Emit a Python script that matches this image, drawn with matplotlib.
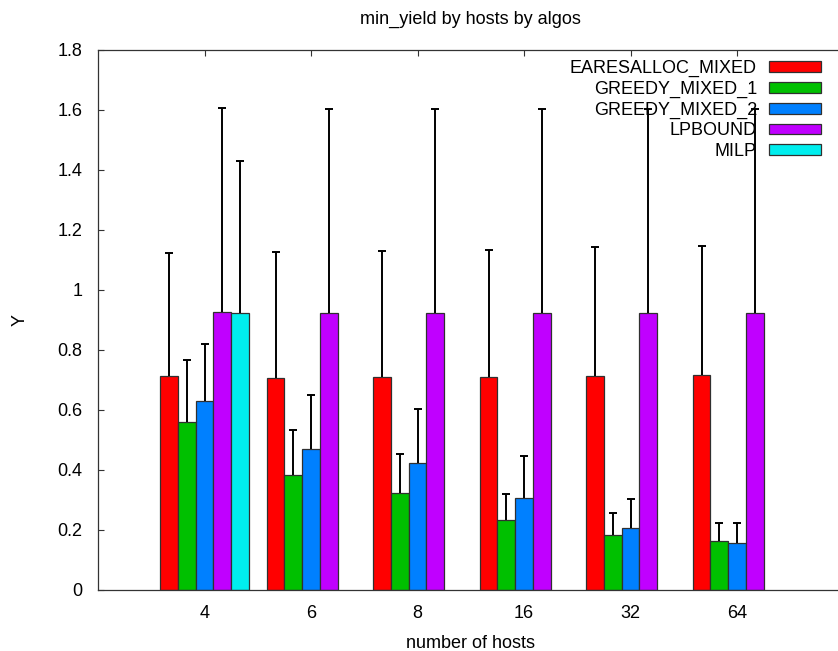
import matplotlib
matplotlib.use('Agg')
import matplotlib.pyplot as plt
import numpy as np

plt.rcParams['font.family'] = ['Liberation Sans', 'DejaVu Sans']
plt.rcParams['font.size'] = 13

# number of hosts on the x axis
hosts = ['4', '6', '8', '16', '32', '64']

algos = ['EARESALLOC_MIXED', 'GREEDY_MIXED_1', 'GREEDY_MIXED_2', 'LPBOUND', 'MILP']
colors = ['#ff0000', '#00c000', '#0080ff', '#c000ff', '#00eeee']

# mean min_yield per algo
eares = [0.713, 0.706, 0.709, 0.709, 0.715, 0.717]
greedy1 = [0.559, 0.384, 0.322, 0.234, 0.183, 0.163]
greedy2 = [0.631, 0.471, 0.424, 0.306, 0.208, 0.158]
lpbound = [0.926, 0.922, 0.922, 0.922, 0.922, 0.922]
milp = [0.922, np.nan, np.nan, np.nan, np.nan, np.nan]

# upper error (std dev)
eares_err = [0.409, 0.420, 0.420, 0.425, 0.427, 0.431]
greedy1_err = [0.208, 0.149, 0.131, 0.086, 0.073, 0.060]
greedy2_err = [0.188, 0.179, 0.179, 0.142, 0.094, 0.065]
lpbound_err = [0.680, 0.681, 0.681, 0.681, 0.681, 0.681]
milp_err = [0.508, np.nan, np.nan, np.nan, np.nan, np.nan]

values = [eares, greedy1, greedy2, lpbound, milp]
errors = [eares_err, greedy1_err, greedy2_err, lpbound_err, milp_err]

fig = plt.figure(figsize=(8.38, 6.51), dpi=100)
ax = fig.add_axes([98 / 838, 61 / 651, 745.6 / 838, 540 / 651])

x = np.arange(len(hosts))
width = 1.0 / 6
for i, (vals, errs) in enumerate(zip(values, errors)):
    pos = x + (i - 2) * width
    vals = np.array(vals, dtype=float)
    errs = np.array(errs, dtype=float)
    ok = ~np.isnan(vals)
    ax.bar(pos[ok], vals[ok], width, color=colors[i], edgecolor='#303030',
           linewidth=0.9, label=algos[i], zorder=2)
    # only the upper half of the error bar is drawn
    top = vals[ok] + errs[ok]
    ax.vlines(pos[ok], vals[ok], top, color='black', linewidth=1.4, zorder=6)
    ax.plot(pos[ok], top, linestyle='none', marker='_', markersize=5.5,
            markeredgewidth=1.4, color='black', zorder=6)

ax.set_xlim(-1, 6)
ax.set_ylim(0, 1.8)
ax.set_xticks(x)
ax.set_xticklabels(hosts)
ax.set_yticks(np.arange(0, 1.81, 0.2))
ax.set_yticklabels(['%g' % round(v, 1) for v in np.arange(0, 1.81, 0.2)])
ax.tick_params(direction='in', length=4.5, width=0.8, top=True, right=True,
               pad=11, color='#333333', labelsize=13)

for s in ax.spines.values():
    s.set_color('#333333')
    s.set_linewidth(0.9)

ax.set_title('min_yield by hosts by algos', fontsize=13, pad=19)
ax.set_xlabel('number of hosts', fontsize=13, labelpad=9)
ax.set_ylabel('Y', fontsize=13, labelpad=21)

leg = ax.legend(loc='upper right', bbox_to_anchor=(821 / 838, 1 - 60 / 651),
                bbox_transform=fig.transFigure, frameon=False, markerfirst=False,
                handlelength=2.9, handleheight=0.55, handletextpad=0.65,
                labelspacing=0.2, borderpad=0, borderaxespad=0, fontsize=13)
leg.set_zorder(5)

fig.savefig('out.png', dpi=100)
